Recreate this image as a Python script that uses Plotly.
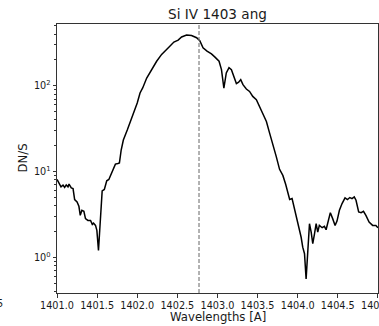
import plotly.graph_objects as go

# ---- data ----
wavelength = [
    1401.000, 1401.030, 1401.050, 1401.075, 1401.095, 1401.115, 1401.137, 1401.150,
    1401.178, 1401.200, 1401.220, 1401.250, 1401.273, 1401.290, 1401.310, 1401.335,
    1401.355, 1401.385, 1401.418, 1401.440, 1401.455, 1401.480, 1401.497, 1401.517,
    1401.538, 1401.563, 1401.590, 1401.620, 1401.646, 1401.675, 1401.703, 1401.728,
    1401.760, 1401.778, 1401.800, 1401.827, 1401.877, 1401.930, 1401.973, 1402.000,
    1402.035, 1402.068, 1402.118, 1402.180, 1402.242, 1402.304, 1402.366, 1402.400,
    1402.457, 1402.510, 1402.553, 1402.615, 1402.677, 1402.740, 1402.780, 1402.820,
    1402.870, 1402.925, 1402.966, 1403.020, 1403.050, 1403.080, 1403.110, 1403.144,
    1403.174, 1403.200, 1403.236, 1403.264, 1403.290, 1403.318, 1403.360, 1403.400,
    1403.440, 1403.485, 1403.525, 1403.567, 1403.610, 1403.650, 1403.690, 1403.733,
    1403.774, 1403.815, 1403.850, 1403.877, 1403.900, 1403.930, 1403.960, 1404.000,
    1404.020, 1404.043, 1404.063, 1404.085, 1404.105, 1404.125, 1404.147, 1404.168,
    1404.188, 1404.210, 1404.230, 1404.250, 1404.270, 1404.305, 1404.333, 1404.354,
    1404.374, 1404.407, 1404.436, 1404.466, 1404.490, 1404.520, 1404.553, 1404.590,
    1404.620, 1404.650, 1404.677, 1404.705, 1404.727, 1404.760, 1404.790, 1404.820,
    1404.850, 1404.890, 1404.934, 1404.975, 1405.000,
]
dn_per_s = [
    8.08, 7.25, 6.62, 6.93, 6.51, 6.98, 6.62, 7.12,
    6.44, 6.33, 4.71, 4.42, 3.93, 3.08, 3.53, 3.43,
    2.82, 2.69, 2.69, 2.42, 2.50, 2.35, 2.06, 1.20,
    2.94, 5.94, 6.17, 7.78, 8.08, 9.32, 10.9, 12.2,
    12.4, 12.6, 17.8, 23.3, 30.6, 41.9, 55.0, 62.9,
    82.4, 94.2, 123, 154, 193, 232, 270, 285,
    323, 341, 370, 390, 385, 363, 335, 277,
    253, 235, 217, 193, 154, 94, 141, 162,
    154, 129, 106, 110, 118, 103, 91.6, 85.9,
    75.1, 68.7, 57.3, 45.8, 38.3, 28.0, 21.3, 14.9,
    10.6, 9.0, 7.1, 5.6, 4.71, 4.83, 3.69, 2.69,
    2.29, 1.71, 1.31, 1.10, 0.56, 1.20, 2.46, 1.96,
    1.44, 1.88, 2.46, 1.96, 2.35, 2.21, 2.29, 2.09,
    2.46, 3.31, 2.82, 2.35, 2.64, 3.53, 4.23, 4.92,
    4.71, 4.97, 4.83, 5.05, 4.62, 3.37, 3.31, 3.43,
    3.08, 2.57, 2.35, 2.35, 2.21,
]
line_center = 1402.77
x_ticks = [1401.0, 1401.5, 1402.0, 1402.5, 1403.0, 1403.5, 1404.0, 1404.5, 1405.0]
y_major = [1, 10, 100]
y_major_text = ["10<sup>0</sup>", "10<sup>1</sup>", "10<sup>2</sup>"]
y_minor = [0.4, 0.5, 0.6, 0.7, 0.8, 0.9,
           2, 3, 4, 5, 6, 7, 8, 9,
           20, 30, 40, 50, 60, 70, 80, 90,
           200, 300, 400, 500]

FONT = "DejaVu Sans"
TXT = "#1a1a1a"
AX = "#333333"

fig = go.Figure()
fig.add_trace(go.Scatter(
    x=wavelength, y=dn_per_s, mode="lines",
    line=dict(color="black", width=1.5),
    showlegend=False, hoverinfo="skip",
))

fig.add_shape(type="line", xref="x", yref="paper",
              x0=line_center, x1=line_center, y0=0, y1=1,
              line=dict(color="#808080", width=1.2, dash="4px,2px"))

fig.update_layout(
    width=379, height=326,
    margin=dict(l=57, r=1, t=24, b=33, autoexpand=False),
    paper_bgcolor="white", plot_bgcolor="white",
    font=dict(family=FONT, size=9.7, color=TXT),
    title=dict(text="Si IV 1403 ang", x=0.5, xref="paper", xanchor="center",
               y=1 - 14 / 326, yref="container", yanchor="middle",
               font=dict(family=FONT, size=13.6, color=TXT)),
    annotations=[
        dict(text="Wavelengths [A]", xref="paper", yref="paper", x=0.5, y=0,
             xanchor="center", yanchor="middle", yshift=-24, showarrow=False,
             font=dict(family=FONT, size=11.7, color=TXT)),
        dict(text="DN/S", xref="paper", yref="paper", x=0, y=0.5,
             xanchor="center", yanchor="middle", xshift=-35, textangle=-90,
             showarrow=False, font=dict(family=FONT, size=11.7, color=TXT)),
        dict(text="5", xref="paper", yref="paper", x=0, y=0,
             xanchor="right", yanchor="middle", xshift=-52.5, yshift=-10,
             showarrow=False, font=dict(family=FONT, size=9.7, color=TXT)),
    ],
)

fig.update_xaxes(
    range=[1401.0, 1405.001], automargin=False,
    tickmode="array", tickvals=x_ticks, ticktext=[f"{v:.1f}" for v in x_ticks],
    ticks="outside", ticklen=3.5, tickwidth=0.8, tickcolor=AX,
    ticklabeloverflow="allow",
    showline=True, linecolor=AX, linewidth=1, mirror=True,
    showgrid=False, zeroline=False,
    tickfont=dict(family=FONT, size=9.7, color=TXT),
)
fig.update_yaxes(
    type="log", range=[-0.417, 2.720], automargin=False,
    tickmode="array", tickvals=y_major, ticktext=y_major_text,
    ticks="outside", ticklen=3.5, tickwidth=0.8, tickcolor=AX,
    minor=dict(tickmode="array", tickvals=y_minor, ticks="outside",
               ticklen=2, tickwidth=0.6, tickcolor=AX, showgrid=False),
    showline=True, linecolor=AX, linewidth=1, mirror=True,
    showgrid=False, zeroline=False,
    tickfont=dict(family=FONT, size=9.7, color=TXT),
)

fig.write_html("out.html")
